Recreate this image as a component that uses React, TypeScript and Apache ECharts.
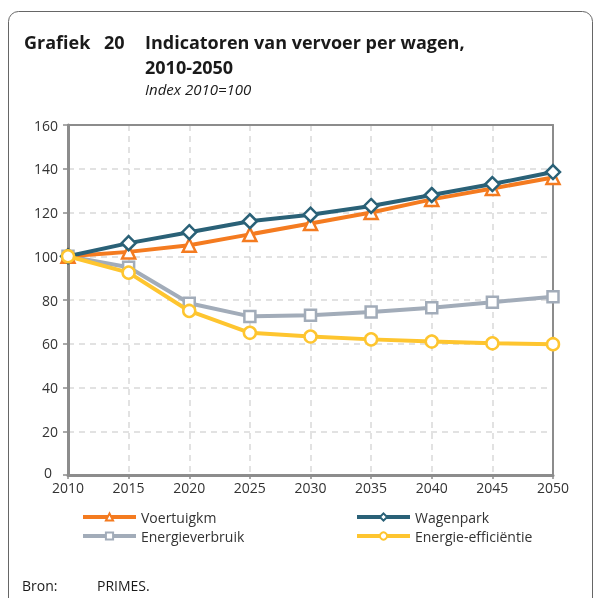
import React, { useEffect, useRef } from "react";
import * as echarts from "echarts";

const years = ["2010", "2015", "2020", "2025", "2030", "2035", "2040", "2045", "2050"];
const voertuigkm = [100, 102, 105, 110, 115, 120, 126, 131, 136];
const wagenpark = [100, 106, 111, 116, 119, 123, 128, 133, 138.5];
const energieverbruik = [100, 95, 78.5, 72.5, 73, 74.5, 76.5, 79, 81.5];
const energieEfficientie = [100, 92.5, 75, 65, 63.3, 62, 61, 60.2, 59.8];

const FONT = "'Open Sans', sans-serif";

export default function App() {
  const ref = useRef<HTMLDivElement>(null);
  useEffect(() => {
    if (!ref.current) return;
    const chart = echarts.init(ref.current, undefined, { renderer: "svg" });
    const mk = (name: string, data: number[], color: string, symbol: string, size: number, z: number) => ({
      name,
      type: "line",
      data,
      symbol,
      symbolSize: size,
      z,
      xAxisIndex: 0,
      yAxisIndex: 0,
      lineStyle: { color, width: 4 },
      itemStyle: { color: "#fff", borderColor: color, borderWidth: 2.5 },
      emphasis: { disabled: true },
    });
    const borderAxis = {
      z: 1.5,
      axisLine: { show: true, onZero: false, lineStyle: { color: "#8c8c8c", width: 2 } },
      axisTick: { show: false },
      axisLabel: { show: false },
      splitLine: { show: false },
    };
    const legendBase = {
      top: 510,
      orient: "vertical",
      itemWidth: 53,
      itemHeight: 9,
      itemGap: 5,
      padding: 0,
      selectedMode: false,
      lineStyle: { width: 4 },
      itemStyle: { borderWidth: 2 },
      textStyle: { fontSize: 14, color: "#333", fontFamily: FONT },
    };
    chart.setOption({
      animation: false,
      textStyle: { fontFamily: FONT },
      graphic: [
        {
          type: "rect",
          shape: { x: 8.5, y: 11.5, width: 584, height: 640, r: 10 },
          style: { fill: "none", stroke: "#666", lineWidth: 1 },
          z: -10,
        },
        { type: "text", x: 24, y: 42, style: { text: "Grafiek", font: `bold 18px ${FONT}`, fill: "#1a1a1a", verticalAlign: "middle" } },
        { type: "text", x: 104, y: 42, style: { text: "20", font: `bold 18px ${FONT}`, fill: "#1a1a1a", verticalAlign: "middle" } },
        { type: "text", x: 145, y: 42, style: { text: "Indicatoren van vervoer per wagen,", font: `bold 18px ${FONT}`, fill: "#1a1a1a", verticalAlign: "middle" } },
        { type: "text", x: 145, y: 66.5, style: { text: "2010-2050", font: `bold 18px ${FONT}`, fill: "#1a1a1a", verticalAlign: "middle" } },
        { type: "text", x: 145, y: 89, style: { text: "Index 2010=100", font: `italic 15px ${FONT}`, fill: "#1a1a1a", verticalAlign: "middle" } },
        { type: "text", x: 22, y: 585, style: { text: "Bron:", font: `14px ${FONT}`, fill: "#1a1a1a", verticalAlign: "middle" } },
        { type: "text", x: 97, y: 585, style: { text: "PRIMES.", font: `14px ${FONT}`, fill: "#1a1a1a", verticalAlign: "middle" } },
      ],
      grid: {
        left: 68,
        right: 41,
        top: 125,
        bottom: 123,
      },
      legend: [
        { ...legendBase, left: 81, data: ["Voertuigkm", "Energieverbruik"] },
        { ...legendBase, left: 355, data: ["Wagenpark", "Energie-efficiëntie"] },
      ],
      xAxis: [
        {
          type: "category",
          data: years,
          boundaryGap: false,
          z: 1,
          axisLine: { lineStyle: { color: "#8c8c8c", width: 3 } },
          axisTick: { show: true, length: 4, lineStyle: { color: "#8c8c8c", width: 1.5 } },
          axisLabel: { color: "#333", fontSize: 14, margin: 5, fontFamily: FONT },
          splitLine: { show: true, lineStyle: { color: "#d9d9d9", width: 1.5, type: [6, 5] } },
        },
        { type: "category", data: years, boundaryGap: false, position: "top", ...borderAxis },
      ],
      yAxis: [
        {
          type: "value",
          min: 0,
          max: 160,
          interval: 20,
          z: 1,
          axisLine: { show: true, lineStyle: { color: "#8c8c8c", width: 3 } },
          axisTick: { show: true, length: 5, lineStyle: { color: "#8c8c8c", width: 1.5 } },
          axisLabel: {
            color: "#333",
            fontSize: 14,
            margin: 10,
            fontFamily: FONT,
            formatter: (v: number) => (v === 0 ? "{z|0}" : String(v)),
            rich: { z: { fontSize: 14, color: "#333", fontFamily: FONT, padding: [0, 6, 5, 0] } },
          },
          splitLine: { show: true, lineStyle: { color: "#d9d9d9", width: 1.5, type: [6, 5] } },
        },
        { type: "value", min: 0, max: 160, interval: 20, position: "right", ...borderAxis },
      ],
      series: [
        mk("Voertuigkm", voertuigkm, "#f47b20", "triangle", 13, 3),
        mk("Wagenpark", wagenpark, "#2a6177", "diamond", 14, 4),
        mk("Energieverbruik", energieverbruik, "#a2acb9", "rect", 11, 2),
        mk("Energie-efficiëntie", energieEfficientie, "#fec52f", "circle", 12, 5),
      ],
    });
    return () => chart.dispose();
  }, []);
  return <div ref={ref} style={{ position: "fixed", left: 0, top: 0, width: 594, height: 598 }} />;
}
